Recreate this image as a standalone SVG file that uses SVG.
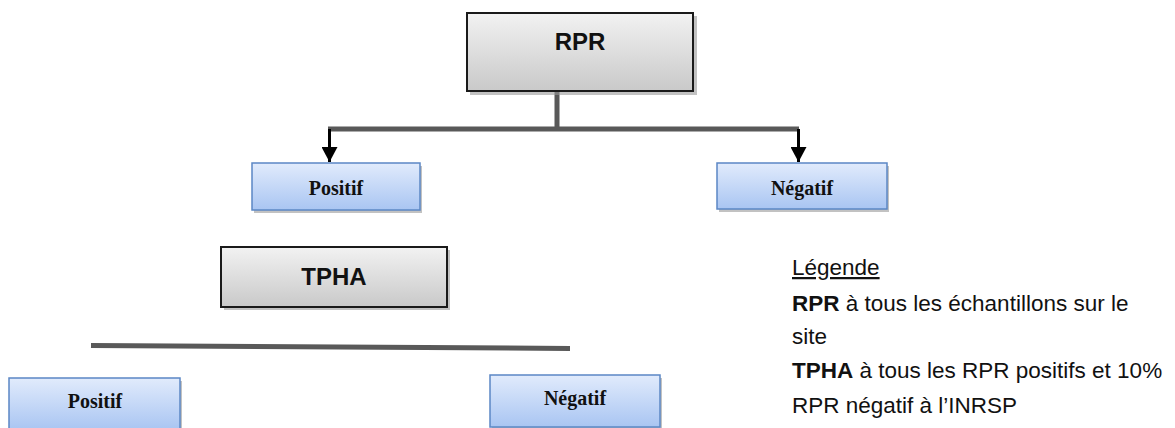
<svg xmlns="http://www.w3.org/2000/svg" width="1175" height="428" viewBox="0 0 1175 428">
<defs>
<linearGradient id="gray" x1="0" y1="0" x2="0" y2="1"><stop offset="0" stop-color="#f2f2f2"/><stop offset="1" stop-color="#c9c9c9"/></linearGradient>
<linearGradient id="blue" x1="0" y1="0" x2="0" y2="1"><stop offset="0" stop-color="#e1ebfc"/><stop offset="1" stop-color="#a9c5f2"/></linearGradient>
<marker id="arr" markerWidth="15" markerHeight="16" refX="15" refY="8" orient="auto" markerUnits="userSpaceOnUse" viewBox="0 0 15 16"><path d="M0,0 L15,8 L0,16 Z" fill="#000"/></marker>
</defs>
<style>
.gbox{fill:url(#gray);stroke:#1a1a1a;stroke-width:2}
.bbox{fill:url(#blue);stroke:#5b87c5;stroke-width:1.5}
.sh{fill:#9a9a9a;opacity:0.6}
.big{font-family:"Liberation Sans",Arial,sans-serif;font-weight:bold;font-size:24px;fill:#111;text-anchor:middle}
.small{font-family:"Liberation Serif","Times New Roman",serif;font-weight:bold;font-size:20px;fill:#111;text-anchor:middle}
.conn{stroke:#595959;stroke-width:5;fill:none}
.arrow{stroke:#000;stroke-width:3;fill:none}
.leg{font-family:"Liberation Sans",Arial,sans-serif;font-size:22.5px;fill:#111}
</style>
<g id="connectors">
<path class="conn" d="M557,91 V129 M328,129 H799"/>
<path class="arrow" d="M329.5,129 V162" marker-end="url(#arr)"/>
<path class="arrow" d="M798.5,129 V162" marker-end="url(#arr)"/>
<path class="conn" d="M91,345.5 L570,348.5"/>
</g>
<g id="rpr">
<rect class="sh" x="470" y="16" width="227" height="79"/>
<rect class="gbox" x="467" y="13" width="226" height="78"/>
<text class="big" x="580" y="50">RPR</text>
</g>
<g id="positif1">
<rect class="sh" x="254" y="166" width="168" height="47"/>
<rect class="bbox" x="252" y="163" width="168" height="47"/>
<text class="small" x="336" y="195">Positif</text>
</g>
<g id="negatif1">
<rect class="sh" x="719" y="166" width="170" height="46"/>
<rect class="bbox" x="717" y="163" width="170" height="46"/>
<text class="small" x="802" y="195">Négatif</text>
</g>
<g id="tpha">
<rect class="sh" x="224" y="250" width="226" height="60"/>
<rect class="gbox" x="221" y="247" width="226" height="60"/>
<text class="big" x="334" y="285">TPHA</text>
</g>
<g id="positif2">
<rect class="sh" x="11" y="381" width="171" height="50"/>
<rect class="bbox" x="9" y="378" width="171" height="52"/>
<text class="small" x="95" y="408">Positif</text>
</g>
<g id="negatif2">
<rect class="sh" x="492" y="378" width="170" height="52"/>
<rect class="bbox" x="490" y="375" width="170" height="52"/>
<text class="small" x="575" y="405">Négatif</text>
</g>
<g id="legende">
<text class="leg" x="792" y="275" text-decoration="underline">Légende</text>
<text class="leg" x="792" y="311"><tspan font-weight="bold">RPR</tspan> à tous les échantillons sur le</text>
<text class="leg" x="792" y="344">site</text>
<text class="leg" x="792" y="378"><tspan font-weight="bold">TPHA</tspan> à tous les RPR positifs et 10%</text>
<text class="leg" x="792" y="413">RPR négatif à l’INRSP</text>
</g>
</svg>
